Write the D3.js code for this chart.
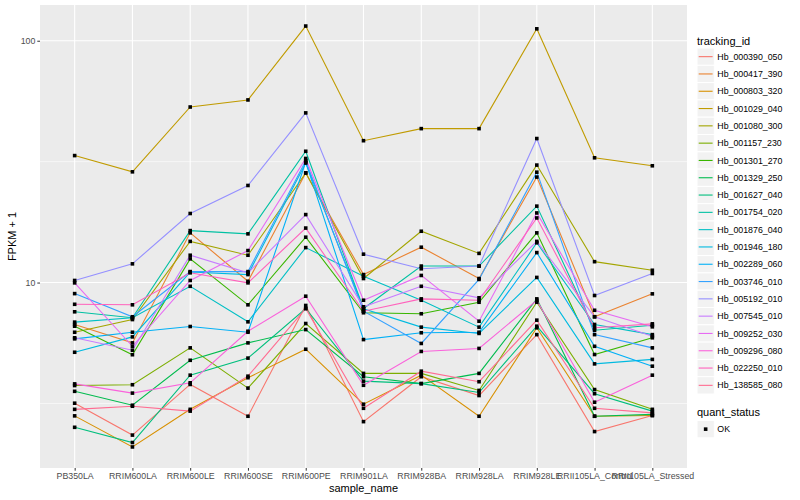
<!DOCTYPE html>
<html>
<head>
<meta charset="utf-8">
<script src="https://cdn.jsdelivr.net/npm/d3@7"></script>
<style>
  body { margin: 0; background: #fff; }
  text { font-family: "Liberation Sans", Arial, sans-serif; }
</style>
</head>
<body>
<svg id="chart" width="800" height="500"></svg>
<script>
var samples = ['PB350LA', 'RRIM600LA', 'RRIM600LE', 'RRIM600SE', 'RRIM600PE', 'RRIM901LA',
  'RRIM928BA', 'RRIM928LA', 'RRIM928LE', 'RRII105LA_Control', 'RRII105LA_Stressed']

var trackingIds = ['Hb_000390_050', 'Hb_000417_390', 'Hb_000803_320', 'Hb_001029_040',
  'Hb_001080_300', 'Hb_001157_230', 'Hb_001301_270', 'Hb_001329_250', 'Hb_001627_040',
  'Hb_001754_020', 'Hb_001876_040', 'Hb_001946_180', 'Hb_002289_060', 'Hb_003746_010',
  'Hb_005192_010', 'Hb_007545_010', 'Hb_009252_030', 'Hb_009296_080', 'Hb_022250_010',
  'Hb_138585_080']

// ggplot default hue palette for 20 levels
var hueColors = ['#F8766D', '#EA8331', '#D89000', '#C09B00', '#A3A500', '#7CAE00', '#39B600',
  '#00BB4E', '#00BF7D', '#00C1A3', '#00BFC4', '#00BAE0', '#00B0F6', '#35A2FF', '#9590FF',
  '#C77CFF', '#E76BF3', '#FA62DB', '#FF62BC', '#FF6C91']

// FPKM + 1, one value per sample
var hb_000390_050 = [3.17, 2.34, 3.79, 2.80, 8.04, 2.66, 4.08, 3.41, 6.09, 2.42, 2.82]
var hb_000417_390 = [6.71, 5.63, 16.05, 10.12, 28.4, 10.79, 14.0, 10.39, 27.3, 7.22, 8.98]
var hb_000803_320 = [2.81, 2.09, 2.99, 4.04, 5.30, 3.14, 4.14, 2.80, 6.50, 2.80, 2.82]
var hb_001029_040 = [33.5, 28.7, 53.2, 56.9, 115, 38.6, 43.3, 43.3, 112, 32.8, 30.4]
var hb_001080_300 = [6.23, 7.03, 14.8, 12.97, 28.4, 10.39, 16.3, 13.2, 30.6, 12.2, 11.24]
var hb_001157_230 = [3.75, 3.78, 5.37, 3.66, 6.77, 4.21, 4.21, 3.58, 8.29, 3.61, 2.99]
var hb_001301_270 = [6.60, 5.03, 12.53, 8.09, 15.4, 7.50, 7.43, 8.29, 16.05, 5.04, 5.91]
var hb_001329_250 = [3.55, 3.11, 4.77, 5.63, 6.39, 4.08, 3.82, 4.21, 8.56, 2.80, 2.85]
var hb_001627_040 = [2.52, 2.18, 4.14, 4.87, 7.81, 3.91, 3.82, 3.51, 6.60, 3.47, 2.94]
var hb_001754_020 = [7.57, 7.15, 16.4, 15.9, 34.9, 7.81, 11.7, 11.7, 20.7, 6.35, 6.66]
var hb_001876_040 = [6.86, 7.15, 9.65, 6.88, 13.95, 10.62, 8.45, 6.54, 14.6, 6.71, 6.09]
var hb_001946_180 = [5.15, 5.96, 11.05, 10.79, 31.2, 7.79, 6.54, 6.16, 10.5, 4.61, 4.81]
var hb_002289_060 = [5.85, 6.23, 6.58, 6.23, 31.5, 5.81, 6.20, 6.23, 13.3, 5.45, 4.51]
var hb_003746_010 = [9.00, 7.22, 11.1, 11.1, 31.9, 7.61, 5.60, 10.3, 28.6, 6.09, 5.37]
var hb_005192_010 = [10.2, 11.95, 19.3, 25.2, 50.3, 13.1, 11.4, 11.7, 39.4, 8.84, 10.9]
var hb_007545_010 = [5.91, 5.25, 12.97, 10.97, 19.1, 7.94, 9.65, 8.65, 14.8, 7.22, 6.0]
var hb_009252_030 = [9.97, 5.45, 10.2, 13.56, 32.6, 8.45, 10.7, 6.92, 19.4, 7.68, 6.56]
var hb_009296_080 = [3.81, 3.49, 3.85, 6.29, 8.78, 3.76, 5.19, 5.34, 8.45, 3.20, 4.14]
var hb_022250_010 = [8.13, 8.09, 10.97, 9.97, 16.8, 7.61, 8.56, 8.45, 18.5, 6.50, 6.75]
var hb_138585_080 = [2.99, 3.08, 2.94, 4.10, 7.81, 3.02, 4.30, 3.89, 6.99, 3.02, 2.89]

var fpkmPlusOne = [hb_000390_050, hb_000417_390, hb_000803_320, hb_001029_040, hb_001080_300,
  hb_001157_230, hb_001301_270, hb_001329_250, hb_001627_040, hb_001754_020, hb_001876_040,
  hb_001946_180, hb_002289_060, hb_003746_010, hb_005192_010, hb_007545_010, hb_009252_030,
  hb_009296_080, hb_022250_010, hb_138585_080]

var yMajor = [10, 100]
var yMinor = [Math.sqrt(10), Math.sqrt(1000)]

var svg = d3.select('#chart')
var panel = {left: 40, right: 687, top: 5, bottom: 468}

var x = d3.scalePoint()
  .domain(samples)
  .range([panel.left, panel.right])
  .padding(0.6)

// log scale with ggplot's 5% expansion
var allValues = d3.merge(fpkmPlusOne)
var lo = Math.log10(d3.min(allValues))
var hi = Math.log10(d3.max(allValues))
var pad = (hi - lo) * 0.05
var y = d3.scaleLog()
  .domain([Math.pow(10, lo - pad), Math.pow(10, hi + pad)])
  .range([panel.bottom, panel.top])

svg.append('rect')
  .attr('x', panel.left)
  .attr('y', panel.top)
  .attr('width', panel.right - panel.left)
  .attr('height', panel.bottom - panel.top)
  .attr('fill', '#EBEBEB')

// grid
svg.selectAll('.minor').data(yMinor).enter().append('line')
  .attr('x1', panel.left).attr('x2', panel.right)
  .attr('y1', function(d) { return y(d) }).attr('y2', function(d) { return y(d) })
  .attr('stroke', '#fff').attr('stroke-width', 0.6)
svg.selectAll('.majorY').data(yMajor).enter().append('line')
  .attr('x1', panel.left).attr('x2', panel.right)
  .attr('y1', function(d) { return y(d) }).attr('y2', function(d) { return y(d) })
  .attr('stroke', '#fff').attr('stroke-width', 1.1)
svg.selectAll('.majorX').data(samples).enter().append('line')
  .attr('y1', panel.top).attr('y2', panel.bottom)
  .attr('x1', function(d) { return x(d) }).attr('x2', function(d) { return x(d) })
  .attr('stroke', '#fff').attr('stroke-width', 1.1)

// lines
var line = d3.line()
  .x(function(d, i) { return x(samples[i]) })
  .y(function(d) { return y(d) })

fpkmPlusOne.forEach(function(values, k) {
  svg.append('path')
    .attr('d', line(values))
    .attr('fill', 'none')
    .attr('stroke', hueColors[k])
    .attr('stroke-width', 1.1)
})

// points (quant_status = OK)
var ps = 3.6
fpkmPlusOne.forEach(function(values) {
  values.forEach(function(v, i) {
    svg.append('rect')
      .attr('x', x(samples[i]) - ps / 2)
      .attr('y', y(v) - ps / 2)
      .attr('width', ps)
      .attr('height', ps)
      .attr('fill', '#000')
  })
})

// axes
var xAxis = svg.append('g')
  .attr('transform', 'translate(0,' + panel.bottom + ')')
  .call(d3.axisBottom(x).tickSize(2.7).tickPadding(2))
var yAxis = svg.append('g')
  .attr('transform', 'translate(' + panel.left + ',0)')
  .call(d3.axisLeft(y).tickValues(yMajor).tickFormat(d3.format('d')).tickSize(2.7).tickPadding(2))

;[xAxis, yAxis].forEach(function(g) {
  g.select('.domain').remove()
  g.selectAll('.tick line').attr('stroke', '#333').attr('stroke-width', 1)
  g.selectAll('.tick text')
    .attr('fill', '#4D4D4D')
    .style('font-size', '8.8px')
    .style('font-family', '"Liberation Sans", Arial, sans-serif')
})

svg.append('text')
  .attr('x', (panel.left + panel.right) / 2)
  .attr('y', 492)
  .attr('text-anchor', 'middle')
  .style('font-size', '11px')
  .text('sample_name')

svg.append('text')
  .attr('transform', 'translate(16,' + (panel.top + panel.bottom) / 2 + ') rotate(-90)')
  .attr('text-anchor', 'middle')
  .style('font-size', '11px')
  .text('FPKM + 1')

// legend: tracking_id
var lg = {x: 697, key: 17.3, first: 48}
svg.append('text')
  .attr('x', lg.x)
  .attr('y', 44.5)
  .style('font-size', '11px')
  .text('tracking_id')

trackingIds.forEach(function(id, k) {
  var ky = lg.first + k * lg.key
  svg.append('rect')
    .attr('x', lg.x).attr('y', ky)
    .attr('width', lg.key).attr('height', lg.key)
    .attr('fill', '#F2F2F2').attr('stroke', '#fff').attr('stroke-width', 1)
  svg.append('line')
    .attr('x1', lg.x + 1.7).attr('x2', lg.x + lg.key - 1.7)
    .attr('y1', ky + lg.key / 2).attr('y2', ky + lg.key / 2)
    .attr('stroke', hueColors[k]).attr('stroke-width', 1.1)
  svg.append('text')
    .attr('x', lg.x + lg.key + 3)
    .attr('y', ky + lg.key / 2 + 3.1)
    .style('font-size', '8.8px')
    .text(id)
})

// legend: quant_status
svg.append('text')
  .attr('x', lg.x)
  .attr('y', 416)
  .style('font-size', '11px')
  .text('quant_status')
svg.append('rect')
  .attr('x', lg.x).attr('y', 420.5)
  .attr('width', lg.key).attr('height', lg.key)
  .attr('fill', '#F2F2F2').attr('stroke', '#fff').attr('stroke-width', 1)
svg.append('rect')
  .attr('x', lg.x + lg.key / 2 - ps / 2).attr('y', 420.5 + lg.key / 2 - ps / 2)
  .attr('width', ps).attr('height', ps)
  .attr('fill', '#000')
svg.append('text')
  .attr('x', lg.x + lg.key + 3)
  .attr('y', 420.5 + lg.key / 2 + 3.1)
  .style('font-size', '8.8px')
  .text('OK')
</script>
</body>
</html>
